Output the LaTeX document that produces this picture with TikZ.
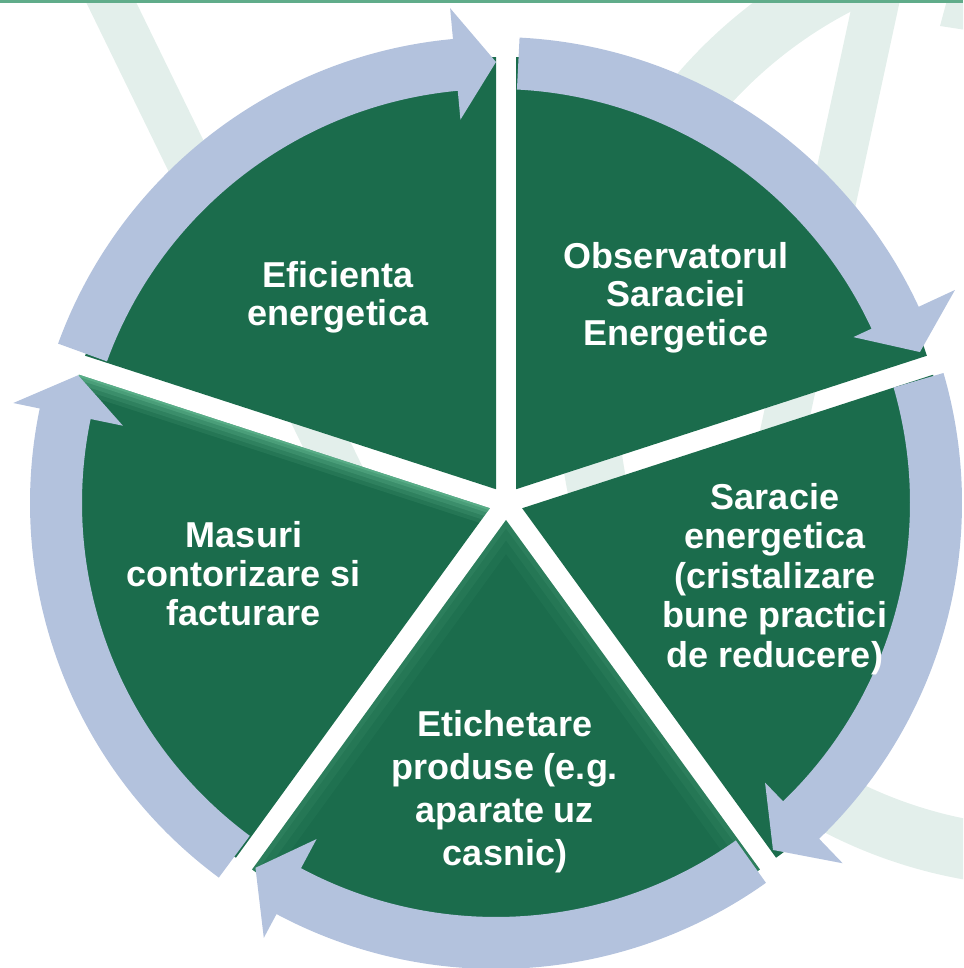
\documentclass[tikz,border=0pt]{standalone}
\usepackage{fontspec}
\setmainfont{Liberation Sans}
\usetikzlibrary{calc}

\definecolor{sectorgreen}{RGB}{27,108,76}
\definecolor{sectorlight}{RGB}{110,196,156}
\definecolor{ringblue}{RGB}{179,194,221}
\definecolor{markgreen}{RGB}{227,239,235}
\definecolor{topgreen}{RGB}{96,172,138}

\begin{document}
\begin{tikzpicture}
	[x=1pt,y=1pt,
	sector/.style={fill=sectorgreen},
	ringarrow/.style={fill=ringblue},
	watermark/.style={fill=markgreen},
	sectortext/.style={text=white,align=center,anchor=north,inner sep=0pt,
		font=\bfseries\fontsize{36}{#1}\selectfont}]

	%Frame
	\useasboundingbox (0,0) rectangle (963,968);
	\clip (0,0) rectangle (963,968);

	%Watermark
	\fill[watermark] (85,968) -- (135,968) -- (408,408) -- (358,408) -- cycle;
	\fill[watermark] (853,968) -- (900,968) -- (779,408) -- (732,408) -- cycle;
	\fill[watermark] (947,968) -- (975,968) -- (966,938) -- (940,942) -- cycle;
	\fill[watermark,even odd rule] (1050,573) circle[radius=492pt] (1050,573) circle[radius=432pt];
	\fill[topgreen] (0,965) rectangle (963,968);

	%Centres
	\coordinate (pie) at (506,465);
	\coordinate (ring) at (496,465);

	%Sectors
	\fill[sector] ([shift={(126:17)}]pie) -- ++(90:432) arc[start angle=90, end angle=162, radius=432pt] -- cycle;
	\fill[sector] ([shift={(54:17)}]pie) -- ++(18:432) arc[start angle=18, end angle=90, radius=432pt] -- cycle;
	\fill[sector] ([shift={(-18:17)}]pie) -- ++(-54:432) arc[start angle=-54, end angle=18, radius=432pt] -- cycle;
	\fill[sector] ([shift={(-90:17)}]pie) coordinate (lowapex) -- ++(-126:432) arc[start angle=-126, end angle=-54, radius=432pt] -- cycle;
	\fill[sector] ([shift={(198:17)}]pie) coordinate (leftapex) -- ++(162:432) arc[start angle=162, end angle=234, radius=432pt] -- cycle;

	%highlight on the left sector
	\begin{scope}
		\clip (leftapex) -- ++(162:432) arc[start angle=162, end angle=234, radius=432pt] -- cycle;
		\draw[sectorlight, line width=34pt, opacity=0.12] (leftapex) -- ++(162:440);
		\draw[sectorlight, line width=26pt, opacity=0.15] (leftapex) -- ++(162:440);
		\draw[sectorlight, line width=18pt, opacity=0.2] (leftapex) -- ++(162:440);
		\draw[sectorlight, line width=10pt, opacity=0.3] (leftapex) -- ++(162:440);
		\draw[sectorlight, line width=4pt, opacity=0.4] (leftapex) -- ++(162:440);
	\end{scope}

	%highlight on the lower sector
	\begin{scope}
		\clip (lowapex) -- ++(-126:432) arc[start angle=-126, end angle=-54, radius=432pt] -- cycle;
		\draw[sectorlight, line width=40pt, opacity=0.06, line join=round] ([shift={(-126:440)}]lowapex) -- (lowapex) -- ++(-54:440);
		\draw[sectorlight, line width=24pt, opacity=0.08, line join=round] ([shift={(-126:440)}]lowapex) -- (lowapex) -- ++(-54:440);
		\draw[sectorlight, line width=10pt, opacity=0.1, line join=round] ([shift={(-126:440)}]lowapex) -- (lowapex) -- ++(-54:440);
	\end{scope}

	%Arrows
	\fill[ringarrow, shift={(ring)}] (160:466) arc[start angle=160, end angle=95.3, radius=466pt] -- (95.3:497) -- (90:441) -- (95.3:385) -- (95.3:414) arc[start angle=95.3, end angle=160, radius=414pt] -- cycle;
	\fill[ringarrow, shift={(ring)}] (87.1:466) arc[start angle=87.1, end angle=24.9, radius=466pt] -- (24.9:506) -- (19.6:450) -- (24.9:394) -- (24.9:414) arc[start angle=24.9, end angle=87.1, radius=414pt] -- cycle;
	\fill[ringarrow, shift={(ring)}] (16.2:466) arc[start angle=16.2, end angle=-46.1, radius=466pt] -- (-46.1:500) -- (-51.4:444) -- (-46.1:388) -- (-46.1:414) arc[start angle=-46.1, end angle=16.2, radius=414pt] -- cycle;
	\fill[ringarrow, shift={(ring)}] (-54.6:466) arc[start angle=-54.6, end angle=-118.1, radius=466pt] -- (-118.1:493) -- (-123.4:437) -- (-118.1:381) -- (-118.1:414) arc[start angle=-118.1, end angle=-54.6, radius=414pt] -- cycle;
	\fill[ringarrow, shift={(ring)}] (-126.5:466) arc[start angle=-126.5, end angle=-191.7, radius=466pt] -- (-191.7:493) -- (-197:437) -- (-191.7:381) -- (-191.7:414) arc[start angle=-191.7, end angle=-126.5, radius=414pt] -- cycle;

	%Labels
	\node[sectortext=38] (eff) at (338,707) {Eficienta\\energetica};
	\node[sectortext=38.5] (obs) at (676,726) {Observatorul\\Saraciei\\Energetice};
	\node[sectortext=39.5] (poverty) at (775,485) {Saracie\\energetica\\(cristalizare\\bune practici\\de reducere)};
	\node[sectortext=39] (meter) at (244,447) {Masuri\\contorizare si\\facturare};
	\node[sectortext=43] (etiq) at (505,258) {Etichetare\\produse (e.g.\\aparate uz\\casnic)};
\end{tikzpicture}
\end{document}
